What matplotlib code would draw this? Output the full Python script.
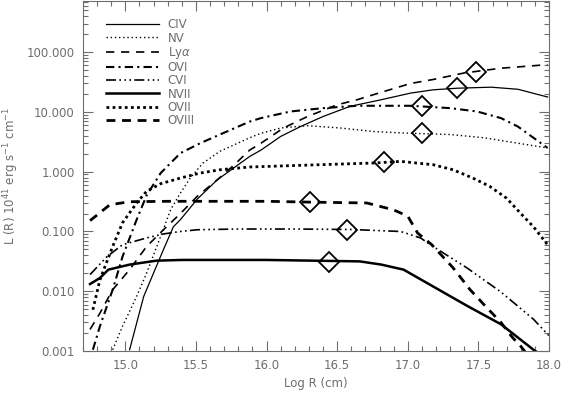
import matplotlib
matplotlib.use("Agg")
import matplotlib.pyplot as plt
from matplotlib.ticker import FixedLocator, MultipleLocator, LogLocator, NullFormatter, FuncFormatter
import numpy as np

# ---- data ----
civ_x = [15.03, 15.13, 15.27, 15.34, 15.39, 15.51, 15.65, 15.88, 15.96, 16.10, 16.24, 16.40, 16.59, 16.81, 17.02, 17.18, 17.35, 17.59, 17.78, 17.99]
civ_y = [0.00105, 0.0082, 0.05, 0.12, 0.158, 0.35, 0.73, 1.8, 2.3, 3.9, 5.7, 8.4, 12.4, 16.0, 20.7, 23.5, 25.0, 26.0, 24.0, 17.8]

nv_x = [14.91, 14.98, 15.08, 15.15, 15.25, 15.32, 15.39, 15.46, 15.55, 15.67, 15.88, 15.96, 16.10, 16.29, 16.52, 16.76, 17.02, 17.30, 17.54, 17.78, 17.99]
nv_y = [0.00105, 0.0026, 0.0082, 0.020, 0.083, 0.23, 0.44, 0.79, 1.4, 2.2, 3.7, 4.4, 5.4, 5.9, 5.4, 4.7, 4.4, 4.2, 3.7, 3.0, 2.5]

lya_x = [14.75, 14.82, 14.91, 15.03, 15.15, 15.27, 15.39, 15.51, 15.65, 15.77, 15.88, 15.96, 16.12, 16.29, 16.50, 16.64, 16.83, 17.02, 17.18, 17.40, 17.66, 17.99]
lya_y = [0.0023, 0.0043, 0.0106, 0.023, 0.056, 0.107, 0.2, 0.39, 0.73, 1.3, 2.3, 3.0, 5.4, 8.4, 13.2, 16.0, 22.0, 30.0, 35.0, 45.0, 54.0, 62.0]

ovi_x = [14.77, 14.82, 14.91, 14.98, 15.08, 15.15, 15.25, 15.39, 15.53, 15.67, 15.88, 15.96, 16.17, 16.40, 16.64, 16.83, 17.02, 17.30, 17.49, 17.66, 17.78, 17.89, 17.99]
ovi_y = [0.00105, 0.0026, 0.0106, 0.038, 0.158, 0.4, 0.95, 2.05, 3.0, 4.2, 6.9, 7.9, 10.2, 11.6, 12.7, 12.7, 12.7, 11.6, 10.2, 7.9, 5.7, 3.7, 2.5]

cvi_x = [14.75, 14.87, 14.98, 15.15, 15.27, 15.39, 15.51, 15.80, 16.20, 16.60, 16.95, 17.09, 17.18, 17.42, 17.66, 17.89, 18.0]
cvi_y = [0.019, 0.038, 0.06, 0.078, 0.091, 0.10, 0.107, 0.11, 0.11, 0.108, 0.10, 0.078, 0.056, 0.0245, 0.0097, 0.0034, 0.0018]

nvii_x = [14.75, 14.82, 14.88, 15.03, 15.22, 15.40, 16.00, 16.66, 16.81, 16.97, 17.18, 17.42, 17.66, 17.89, 18.0]
nvii_y = [0.0132, 0.0167, 0.023, 0.0279, 0.0325, 0.0334, 0.0334, 0.0316, 0.028, 0.023, 0.012, 0.0057, 0.0028, 0.00105, 0.0007]

ovii_x = [14.77, 14.82, 14.91, 14.98, 15.08, 15.15, 15.25, 15.39, 15.53, 15.67, 15.88, 16.24, 16.76, 16.95, 17.18, 17.32, 17.46, 17.58, 17.70, 17.80, 17.89, 17.99]
ovii_y = [0.0049, 0.0156, 0.056, 0.14, 0.30, 0.47, 0.63, 0.785, 0.95, 1.08, 1.2, 1.28, 1.4, 1.49, 1.31, 1.08, 0.785, 0.57, 0.36, 0.2, 0.12, 0.06]

oviii_x = [14.75, 14.89, 15.03, 15.30, 15.60, 16.00, 16.31, 16.71, 16.90, 17.00, 17.07, 17.17, 17.32, 17.44, 17.56, 17.66, 17.74, 17.80, 17.90]
oviii_y = [0.152, 0.28, 0.315, 0.32, 0.32, 0.32, 0.31, 0.30, 0.23, 0.18, 0.094, 0.06, 0.0248, 0.0107, 0.0053, 0.003, 0.0017, 0.0012, 0.0006]

labels = ["CIV", "NV", r"Ly$\alpha$", "OVI", "CVI", "NVII", "OVII", "OVIII"]
marker_x = [17.35, 17.10, 17.48, 17.10, 16.57, 16.44, 16.83, 16.31]
marker_y = [25.0, 4.4, 47.0, 12.7, 0.105, 0.031, 1.45, 0.31]

xticks = [15.0, 15.5, 16.0, 16.5, 17.0, 17.5, 18.0]
yticks = [0.001, 0.01, 0.1, 1.0, 10.0, 100.0]

# ---- drawing ----
gray = "#6e6e6e"
plt.rcParams['font.family'] = ['DejaVu Sans']
fig = plt.figure(figsize=(5.64, 3.97), dpi=100)
ax = fig.add_axes([83/564, 46/397, 466/564, 350/397])

series = [
    (civ_x, civ_y, dict(ls='-', lw=0.9)),
    (nv_x, nv_y, dict(ls=(0, (1, 2)), lw=1.0)),
    (lya_x, lya_y, dict(ls=(0, (5, 4)), lw=1.2)),
    (ovi_x, ovi_y, dict(ls=(0, (4, 2, 1, 2)), lw=1.5)),
    (cvi_x, cvi_y, dict(ls=(0, (6, 2, 1, 2, 1, 2, 1, 2)), lw=1.2)),
    (nvii_x, nvii_y, dict(ls='-', lw=1.8)),
    (ovii_x, ovii_y, dict(ls=(0, (1, 1.2)), lw=2.0)),
    (oviii_x, oviii_y, dict(ls=(0, (3.2, 2.4)), lw=2.0)),
]
for (x, y, st), lab in zip(series, labels):
    ax.plot(x, y, color='black', label=lab, **st)

ax.plot(marker_x, marker_y, ls='none', marker='D', ms=10.5, mfc='none',
        mec='black', mew=1.3)

ax.set_yscale('log')
ax.set_xlim(14.7, 18.0)
ax.set_ylim(0.001, 720)
ax.xaxis.set_major_locator(FixedLocator(xticks))
ax.xaxis.set_minor_locator(MultipleLocator(0.1))
ax.yaxis.set_major_locator(FixedLocator(yticks))
ax.yaxis.set_minor_locator(LogLocator(base=10, subs=np.arange(2, 10)))
ax.yaxis.set_minor_formatter(NullFormatter())
ax.xaxis.set_major_formatter(FuncFormatter(lambda v, p: f"{v:.1f}"))
ax.yaxis.set_major_formatter(FuncFormatter(lambda v, p: f"{v:.3f}"))

ax.tick_params(which='both', direction='in', top=True, right=True,
               color=gray, labelcolor=gray, labelsize=8.5, width=0.8)
ax.tick_params(which='major', length=7, pad=6)
ax.tick_params(which='minor', length=3.5)
for s in ax.spines.values():
    s.set_color(gray)
    s.set_linewidth(0.8)

ax.set_xlabel("Log R (cm)", color=gray, fontsize=8.5, labelpad=3)
ax.set_ylabel(r"L (R) 10$^{41}$ erg s$^{-1}$ cm$^{-1}$", color=gray, fontsize=8.5, labelpad=4)

leg = ax.legend(loc='upper left', bbox_to_anchor=(0.04, 0.964), frameon=False,
                fontsize=8.5, handlelength=4.5, handletextpad=0.7, labelspacing=0.02,
                labelcolor=gray, borderaxespad=0)

fig.savefig("out.png", dpi=100)
